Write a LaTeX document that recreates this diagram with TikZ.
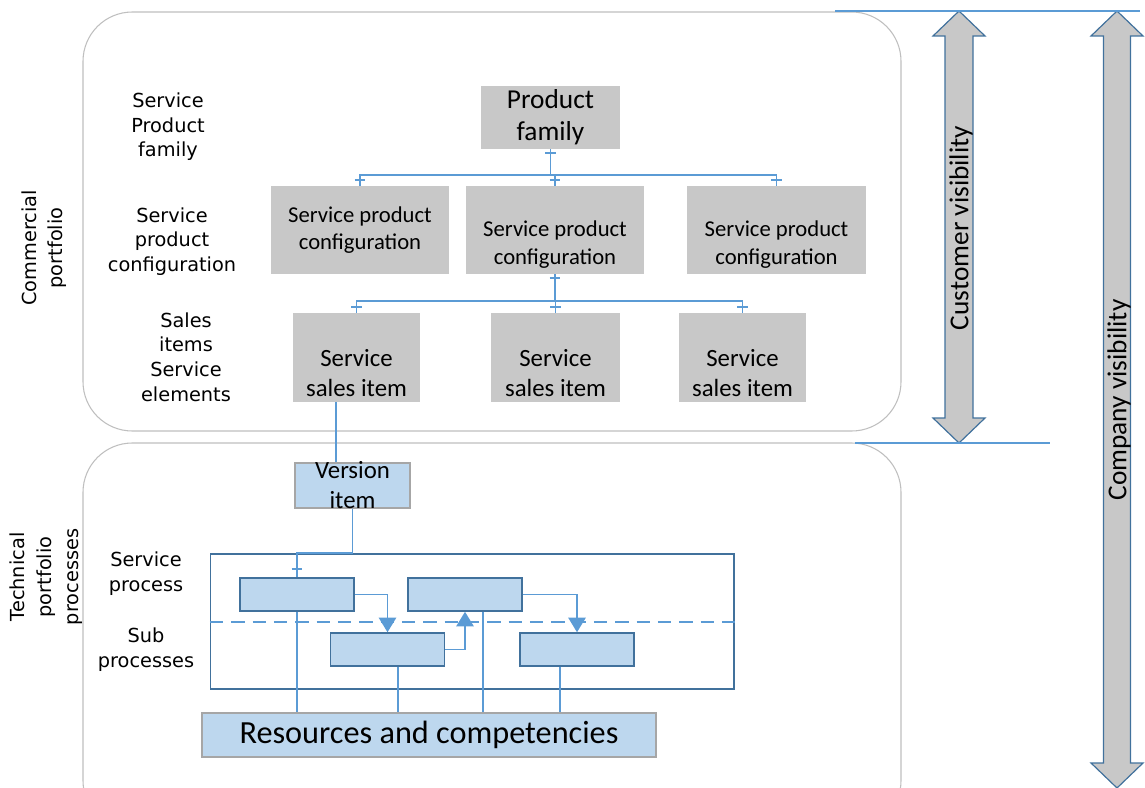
\documentclass[tikz,border=0pt]{standalone}
\usepackage{fontspec}
\setmainfont{Carlito}
\newfontfamily\handfont{DejaVu Sans}
\usetikzlibrary{positioning,arrows.meta,decorations.markings}

\definecolor{boxgray}{RGB}{200,200,200}
\definecolor{paleblue}{RGB}{189,215,238}
\definecolor{lineblue}{RGB}{91,155,213}
\definecolor{edgeblue}{RGB}{65,113,156}
\definecolor{framegray}{RGB}{191,191,191}
\definecolor{rimgray}{RGB}{166,166,166}

% text set low in a box: height, width, text, space below
\newcommand{\lowtext}[4]{\parbox[c][#1][b]{#2}{\centering #3\par\vspace{#4}}}

\begin{document}
\begin{tikzpicture}[x=0.75pt,y=-0.75pt,
  portfolio/.style={draw=framegray,line width=0.8pt,rounded corners=37pt},
  greybox/.style={fill=boxgray,inner sep=0pt,align=center},
  paleboxed/.style={fill=paleblue,draw=rimgray,line width=0.8pt,inner sep=0pt,align=center},
  procbox/.style={fill=paleblue,draw=edgeblue,line width=1.1pt,minimum width=85.5pt,minimum height=24.75pt,inner sep=0pt},
  link/.style={draw=lineblue,line width=1.4pt},
  flow/.style={link,-{Triangle[width=13pt,length=11pt]}},
  onetip/.style={postaction={decorate,decoration={markings,
      mark=at position -4pt with {\draw[lineblue,line width=1.6pt] (0,-4pt) -- (0,4pt);}}}},
  onestart/.style={postaction={decorate,decoration={markings,
      mark=at position 3pt with {\draw[lineblue,line width=1.6pt] (0,-4pt) -- (0,4pt);}}}},
  visarrow/.style={fill=boxgray,draw=edgeblue,line width=0.9pt},
  sidelabel/.style={font=\handfont\fontsize{14.5}{18.4}\selectfont,align=center},
  rotlabel/.style={font=\handfont\fontsize{14.5}{20}\selectfont,align=center,rotate=90}
]
\useasboundingbox (0,0) rectangle (1145,788);

% portfolio frames
\draw[portfolio] (83,12) rectangle (901,431);
\draw[portfolio] (83,443) rectangle (901,830);

% commercial portfolio
\node[greybox,minimum width=104.25pt,minimum height=47.25pt,font=\fontsize{20.5}{24}\selectfont] (fam) at (550.5,117.5) {Product\\family};

\node[greybox,minimum width=133.5pt,minimum height=66pt,font=\fontsize{17}{20.5}\selectfont] (cfgA) at (360,230) {Service product\\configuration};
\node[greybox,minimum width=133.5pt,minimum height=66pt,font=\fontsize{17}{20.5}\selectfont] (cfgB) at (555,230) {\lowtext{66pt}{133.5pt}{Service product\\configuration}{4.5pt}};
\node[greybox,minimum width=134.25pt,minimum height=66pt,font=\fontsize{17}{20.5}\selectfont] (cfgC) at (776.5,230) {\lowtext{66pt}{134.25pt}{Service product\\configuration}{4.5pt}};

\node[greybox,minimum width=95.25pt,minimum height=66.75pt,font=\fontsize{18.6}{22.5}\selectfont] (salA) at (356.5,357.5) {\lowtext{66.75pt}{95.25pt}{Service\\sales item}{3.75pt}};
\node[greybox,minimum width=96.75pt,minimum height=66.75pt,font=\fontsize{18.6}{22.5}\selectfont] (salB) at (555.5,357.5) {\lowtext{66.75pt}{96.75pt}{Service\\sales item}{3.75pt}};
\node[greybox,minimum width=95.25pt,minimum height=66.75pt,font=\fontsize{18.6}{22.5}\selectfont] (salC) at (742.5,357.5) {\lowtext{66.75pt}{95.25pt}{Service\\sales item}{3.75pt}};

\coordinate (busA) at (0,175);
\coordinate (busB) at (0,301);
\draw[link,onestart] (fam.south) -- (fam.south |- busA);
\draw[link,onetip] (fam.south |- busA) -| (cfgA.north);
\draw[link,onetip] (fam.south |- busA) -| (cfgB.north);
\draw[link,onetip] (fam.south |- busA) -| (cfgC.north);
\draw[link,onestart] (cfgB.south) -- (cfgB.south |- busB);
\draw[link,onetip] (cfgB.south |- busB) -| (salA.north);
\draw[link,onetip] (cfgB.south |- busB) -| (salB.north);
\draw[link,onetip] (cfgB.south |- busB) -| (salC.north);

% technical portfolio
\node[paleboxed,minimum width=86.25pt,minimum height=33.75pt,font=\fontsize{18.6}{22.5}\selectfont] (ver) at (352.5,485.5) {\parbox[c][33.75pt][c]{86.25pt}{\centering Version\\item}};
\node[draw=edgeblue,line width=1pt,minimum width=392.6pt,minimum height=101.25pt,inner sep=0pt] (frame) at (472.25,621.5) {};
\draw[lineblue,line width=1.4pt,dash pattern=on 10pt off 6pt] (frame.west |- 0,622) -- (frame.east |- 0,622);

\node[procbox] (procA) at (297,594.5) {};
\node[procbox] (procB) at (465,594.5) {};
\node[procbox] (subA) at (387.5,649.5) {};
\node[procbox] (subB) at (577,649.5) {};

\node[paleboxed,minimum width=340.5pt,minimum height=33pt,font=\fontsize{24.2}{28}\selectfont] (res) at (429,735) {Resources and competencies};

\coordinate (salfoot) at ([xshift=-15.4pt]salA.south);
\draw[link] (salfoot) -- (salfoot |- ver.north);
\draw[link] (ver.south) -- (ver.south |- frame.north) -| (procA.north)
  [postaction={decorate,decoration={markings,mark=at position -6pt with {\draw[lineblue,line width=1.6pt] (0,-4pt) -- (0,4pt);}}}];

\draw[flow] (procA.east) -| (subA.north);
\draw[flow] (subA.east) -| (procB.south);
\draw[flow] (procB.east) -| (subB.north);

\coordinate (subAfoot) at ([xshift=8pt]subA.south);
\coordinate (procBfoot) at ([xshift=13.5pt]procB.south);
\coordinate (subBfoot) at ([xshift=-12.75pt]subB.south);
\draw[link] (procA.south) -- (procA.south |- res.north);
\draw[link] (subAfoot) -- (subAfoot |- res.north);
\draw[link] (procBfoot) -- (procBfoot |- res.north);
\draw[link] (subBfoot) -- (subBfoot |- res.north);

% visibility arrows
\draw[visarrow] (959,11) -- (985,36) -- (973,36) -- (973,418) -- (985,418) -- (959,443)
  -- (933,418) -- (945,418) -- (945,36) -- (933,36) -- cycle;
\node[rotate=90,font=\fontsize{20.5}{24}\selectfont] (custvis) at (961,228) {Customer visibility};
\draw[visarrow] (1117,11) -- (1143,36) -- (1130.5,36) -- (1130.5,763) -- (1143,763) -- (1117,788)
  -- (1091,763) -- (1103.5,763) -- (1103.5,36) -- (1091,36) -- cycle;
\node[rotate=90,font=\fontsize{20.5}{24}\selectfont] (compvis) at (1119,400) {Company visibility};
\draw[lineblue,line width=1pt] (835,11) -- (1140,11);
\draw[lineblue,line width=1pt] (855,443) -- (1050,443);

% level labels
\node[sidelabel] (famlab) at (168,127) {Service\\Product\\family};
\node[sidelabel] (cfglab) at (172,241.5) {Service\\product\\configuration};
\node[sidelabel] (sallab) at (186,357) {Sales\\items\\Service\\elements};
\node[sidelabel] (proclab) at (146,573.5) {Service\\process};
\node[sidelabel] (sublab) at (146,649.5) {Sub\\processes};
\node[rotlabel] (comlab) at (44,248) {Commercial\\portfolio};
\node[rotlabel] (techlab) at (46,577) {Technical\\portfolio\\processes};
\end{tikzpicture}
\end{document}
